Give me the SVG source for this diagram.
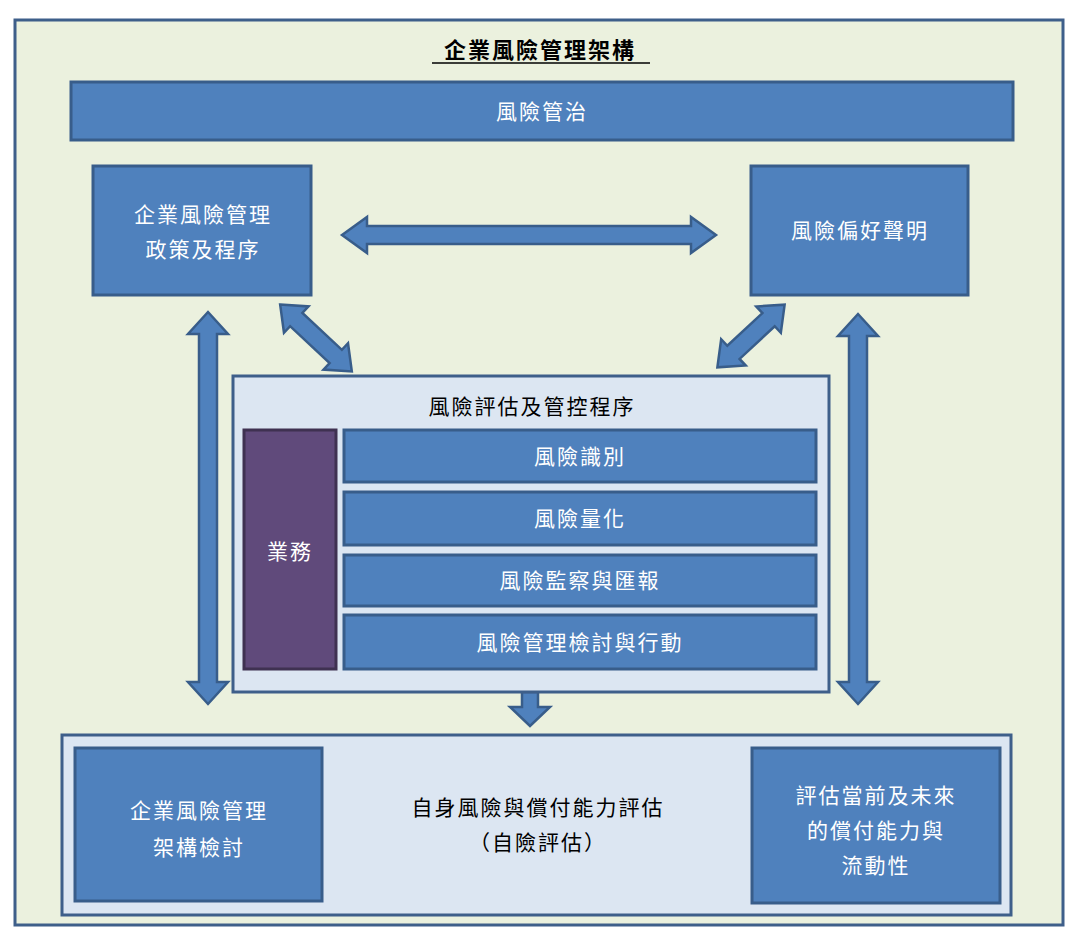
<svg xmlns="http://www.w3.org/2000/svg" width="1080" height="946" viewBox="0 0 1080 946">
<style>
.box{fill:#4F81BD;stroke:#385D8A;stroke-width:3}
.panel{fill:#DCE6F2;stroke:#3E5F8A;stroke-width:3}
.arr{fill:#4F81BD;stroke:#385D8A;stroke-width:2.5;stroke-linejoin:miter}
.w{fill:#fff;font-family:"Noto Sans CJK TC",sans-serif;font-size:21px;text-anchor:middle;letter-spacing:2px}
.k{fill:#000;font-family:"Noto Sans CJK TC",sans-serif;font-size:21px;text-anchor:middle;letter-spacing:2px}
</style>
<rect width="1080" height="946" fill="#fff"/>
<rect x="15" y="20" width="1048" height="905" fill="#EBF1DE" stroke="#3E5F8A" stroke-width="3"/>
<g id="title"><text x="540" y="58" class="k" style="font-weight:bold;font-size:22px">企業風險管理架構</text><line x1="432" y1="63" x2="650" y2="63" stroke="#000" stroke-width="1.5"/></g>
<g id="connectors">
<polygon class="arr" transform="translate(529,235)" points="-187,0 -162,-18 -162,-9 162,-9 162,-18 187,0 162,18 162,9 -162,9 -162,18"/>
<polygon class="arr" transform="translate(316,338) rotate(43)" points="-49,0 -27,-18 -27,-9 27,-9 27,-18 49,0 27,18 27,9 -27,9 -27,18"/>
<polygon class="arr" transform="translate(751,336) rotate(137)" points="-46,0 -24,-18 -24,-9 24,-9 24,-18 46,0 24,18 24,9 -24,9 -24,18"/>
<polygon class="arr" transform="translate(208,508) rotate(90)" points="-196,0 -174,-20 -174,-9 174,-9 174,-20 196,0 174,20 174,9 -174,9 -174,20"/>
<polygon class="arr" transform="translate(858,509) rotate(90)" points="-195,0 -173,-20 -173,-9 173,-9 173,-20 195,0 173,20 173,9 -173,9 -173,20"/>
<polygon class="arr" points="522,692 538,692 538,707 550,707 530,726 510,707 522,707"/>
</g>
<g id="governance"><rect class="box" x="71" y="82" width="942" height="58"/><text class="w" x="542" y="119">風險管治</text></g>
<g id="policy"><rect class="box" x="93" y="166" width="218" height="129"/><text class="w" x="203" y="222">企業風險管理</text><text class="w" x="203" y="257">政策及程序</text></g>
<g id="appetite"><rect class="box" x="751" y="166" width="217" height="129"/><text class="w" x="860" y="238">風險偏好聲明</text></g>
<g id="process"><rect class="panel" x="233" y="376" width="596" height="316"/><text class="k" x="532" y="414">風險評估及管控程序</text></g>
<g id="business"><rect x="244" y="430" width="92" height="239" fill="#604A7B" stroke="#3F3151" stroke-width="3"/><text class="w" x="290" y="559">業務</text></g>
<g id="identify"><rect class="box" x="344" y="430" width="472" height="52"/><text class="w" x="580" y="464">風險識別</text></g>
<g id="quantify"><rect class="box" x="344" y="492" width="472" height="53"/><text class="w" x="580" y="526">風險量化</text></g>
<g id="monitor"><rect class="box" x="344" y="555" width="472" height="51"/><text class="w" x="580" y="588">風險監察與匯報</text></g>
<g id="review"><rect class="box" x="344" y="615" width="472" height="54"/><text class="w" x="580" y="650">風險管理檢討與行動</text></g>
<g id="orsa"><rect class="panel" x="62" y="735" width="949" height="180"/><text class="k" x="538" y="815">自身風險與償付能力評估</text><text class="k" x="538" y="850">（自險評估）</text></g>
<g id="frameworkreview"><rect class="box" x="75" y="748" width="247" height="153"/><text class="w" x="199" y="818">企業風險管理</text><text class="w" x="199" y="855">架構檢討</text></g>
<g id="solvency"><rect class="box" x="752" y="748" width="248" height="155"/><text class="w" x="876" y="803">評估當前及未來</text><text class="w" x="876" y="838">的償付能力與</text><text class="w" x="876" y="873">流動性</text></g>
</svg>
